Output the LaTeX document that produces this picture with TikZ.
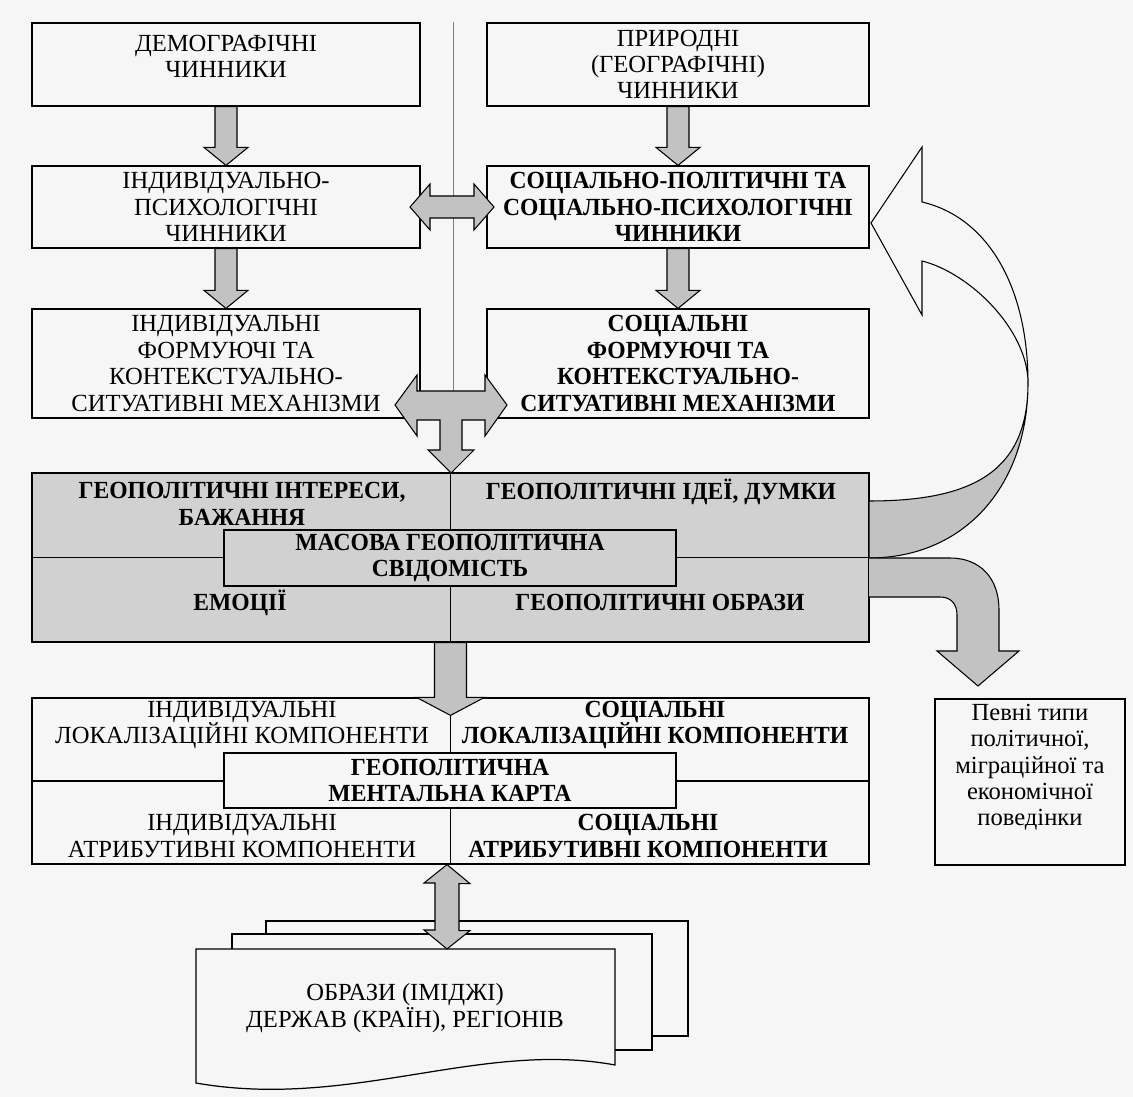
\documentclass[tikz,border=0pt]{standalone}
\usepackage{fontspec}
\setmainfont{Liberation Serif}[BoldFeatures={FakeStretch=0.96}]
\usetikzlibrary{calc,positioning}

\newcommand{\fs}{\fontsize{14}{15}\selectfont}
\definecolor{paper}{gray}{0.965}
\definecolor{boxgrey}{gray}{0.82}
\definecolor{arrgrey}{gray}{0.76}

% block arrow down from #3 to #4 (shaft half width #1, head half width #2)
\newcommand{\vblock}[4]{%
  \draw[arr] ($(#3)+(-#1,0)$) -- ($(#3|-#4)+(-#1,-18)$) -- ($(#3|-#4)+(-#2,-18)$) -- (#3|-#4)
    -- ($(#3|-#4)+(#2,-18)$) -- ($(#3|-#4)+(#1,-18)$) -- ($(#3)+(#1,0)$) -- cycle;}

\begin{document}
\begin{tikzpicture}[x=0.02cm, y=-0.02cm,
  box/.style={draw, line width=0.7pt, inner sep=0pt, align=center, font=\fs},
  boldbox/.style={box, font=\fs\bfseries},
  txt/.style={inner sep=0pt, align=center, font=\fs},
  boldtxt/.style={txt, font=\fs\bfseries},
  arr/.style={draw, line width=0.6pt, fill=arrgrey, line join=miter}]

\fill[paper] (0,0) rectangle (1133,1097);
\useasboundingbox (0,0) rectangle (1133,1097);

% Divider
\draw[gray, line width=0.5pt] (453,22) -- (453,473);

% Top boxes
\node[box, minimum width=7.76cm, minimum height=1.66cm] (dem) at (226,64.5) {};
\node[txt, below=7pt of dem.north] (demtxt) {ДЕМОГРАФІЧНІ\\ЧИННИКИ};
\node[box, minimum width=7.64cm, minimum height=1.66cm] (nat) at (678,64.5) {ПРИРОДНІ\\(ГЕОГРАФІЧНІ)\\ЧИННИКИ};

\node[box, minimum width=7.76cm, minimum height=1.64cm] (indpsy) at (226,207) {ІНДИВІДУАЛЬНО-\\ПСИХОЛОГІЧНІ\\ЧИННИКИ};
\node[boldbox, minimum width=7.64cm, minimum height=1.64cm] (socpsy) at (678,207) {СОЦІАЛЬНО-ПОЛІТИЧНІ ТА\\СОЦІАЛЬНО-ПСИХОЛОГІЧНІ\\ЧИННИКИ};

\node[box, minimum width=7.76cm, minimum height=2.18cm] (indmech) at (226,363.5) {ІНДИВІДУАЛЬНІ\\ФОРМУЮЧІ ТА\\КОНТЕКСТУАЛЬНО-\\СИТУАТИВНІ МЕХАНІЗМИ};
\node[boldbox, minimum width=7.64cm, minimum height=2.18cm] (socmech) at (678,363.5) {СОЦІАЛЬНІ\\ФОРМУЮЧІ ТА\\КОНТЕКСТУАЛЬНО-\\СИТУАТИВНІ МЕХАНІЗМИ};

% Arrows between the top boxes
\vblock{11}{22}{dem.south}{indpsy.north}
\vblock{11}{22}{indpsy.south}{indmech.north}
\vblock{11}{22}{nat.south}{socpsy.north}
\vblock{11}{22}{socpsy.south}{socmech.north}
\draw[arr] (410,207) -- (430,184) -- (430,196) -- (474,196) -- (474,184) -- (494,207) -- (474,230) -- (474,218) -- (430,218) -- (430,230) -- cycle;

% Mass consciousness
\node[box, fill=boxgrey, minimum width=16.74cm, minimum height=3.38cm] (geo) at (450.5,557.5) {};
\draw[line width=0.7pt] (geo.west) -- (geo.east) (geo.north) -- (geo.south);
\node[boldbox, fill=boxgrey, minimum width=9.04cm, minimum height=1.12cm] (mass) at (450,558) {МАСОВА ГЕОПОЛІТИЧНА\\СВІДОМІСТЬ};
\node[boldtxt] (interest) at (242,504) {ГЕОПОЛІТИЧНІ ІНТЕРЕСИ,\\БАЖАННЯ};
\node[boldtxt, anchor=base] (ideas) at (661,500) {ГЕОПОЛІТИЧНІ ІДЕЇ, ДУМКИ};
\node[boldtxt, anchor=base] (emo) at (240,611) {ЕМОЦІЇ};
\node[boldtxt, anchor=base] (images) at (660,611) {ГЕОПОЛІТИЧНІ ОБРАЗИ};

% T arrow
\draw[arr] (395,405) -- (417,375) -- (417,391) -- (485,391) -- (485,375) -- (507,405) -- (485,436) -- (485,420) -- (462,420) -- (462,450) -- (474,450) -- (451,473) -- (428,450) -- (440,450) -- (440,420) -- (417,420) -- (417,436) -- cycle;

% Curved arrow back
\filldraw[fill=paper, line width=0.6pt] (922,202) .. controls (990,218) and (1028,290) .. (1028,383)
  .. controls (1028,330) and (970,273) .. (922,261) -- (922,315) -- (871,223) -- (922,147) -- cycle;
\path[arr] (1028,383) .. controls (1028,485) and (965,558) .. (869,558) -- (869,501) .. controls (975,501) and (1028,470) .. (1028,383);

% Curved arrow down
\path[arr] (869,558) -- (950,558) .. controls (980,558) and (999,578) .. (999,610) -- (999,651) -- (1019,651) -- (978,686) -- (937,651) -- (957,651) -- (957,615) .. controls (957,603) and (950,597) .. (940,597) -- (869,597);

% Mental map
\node[box, minimum width=16.74cm, minimum height=3.32cm] (ment) at (450.5,781) {};
\draw[line width=0.7pt] (ment.west) -- (ment.east) (ment.north) -- (ment.south);
\node[boldbox, fill=paper, minimum width=9.04cm, minimum height=1.1cm] (map) at (450,780.5) {ГЕОПОЛІТИЧНА\\МЕНТАЛЬНА КАРТА};
\node[txt] (indloc) at (242,725) {ІНДИВІДУАЛЬНІ\\ЛОКАЛІЗАЦІЙНІ КОМПОНЕНТИ};
\node[boldtxt] (socloc) at (655,725) {СОЦІАЛЬНІ\\ЛОКАЛІЗАЦІЙНІ КОМПОНЕНТИ};
\node[txt] (indattr) at (242,836) {ІНДИВІДУАЛЬНІ\\АТРИБУТИВНІ КОМПОНЕНТИ};
\node[boldtxt] (socattr) at (648,836) {СОЦІАЛЬНІ\\АТРИБУТИВНІ КОМПОНЕНТИ};
\coordinate (menttip) at ($(ment.north)+(0,18)$);
\vblock{16}{34}{geo.south}{menttip}

% Behaviour
\node[box, minimum width=3.8cm, minimum height=3.32cm] (beh) at (1030,782) {};
\node[txt, below=3pt of beh.north] (behtxt) {Певні типи\\політичної,\\міграційної та\\економічної\\поведінки};

% Documents
\filldraw[fill=paper, line width=0.7pt] (266,921) rectangle (688,1036);
\filldraw[fill=paper, line width=0.7pt] (232,934) rectangle (652,1050);
\filldraw[fill=paper, line width=0.7pt] (196,949) -- (615,949) -- (615,1065) .. controls (480,1040) and (350,1110) .. (196,1083) -- cycle;
\node[txt] (imgs) at (405,1008) {ОБРАЗИ (ІМІДЖІ)\\ДЕРЖАВ (КРАЇН), РЕГІОНІВ};
\coordinate (doc) at (447,949);
\draw[arr] (doc|-ment.south) -- ++(23,19) -- ++(-11,0) -- ++(0,47) -- ++(11,0) -- (doc) -- ++(-23,-19) -- ++(11,0) -- ++(0,-47) -- ++(-11,0) -- cycle;
\end{tikzpicture}
\end{document}
